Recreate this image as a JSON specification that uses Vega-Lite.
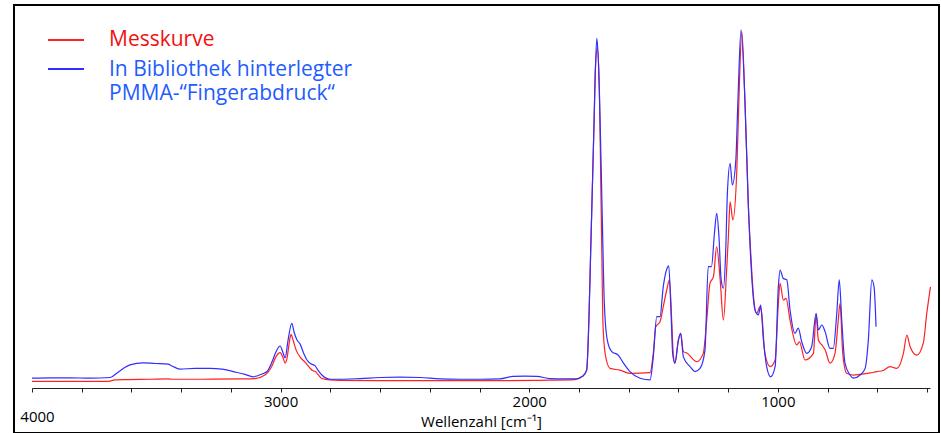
{
  "$schema": "https://vega.github.io/schema/vega-lite/v6.json",
  "autosize": "none",
  "width": 925,
  "height": 428,
  "padding": {"left": 14, "top": 5, "right": 2, "bottom": 0},
  "background": "white",
  "config": {"view": {"stroke": "black", "strokeWidth": 2}},
  "data": {"values": [
{"k":"M","wn":4000,"a":0.019},{"k":"M","wn":3887,"a":0.019},{"k":"M","wn":3767,"a":0.019},{"k":"M","wn":3694,"a":0.019},{"k":"M","wn":3666,"a":0.023},{"k":"M","wn":3626,"a":0.024},{"k":"M","wn":3525,"a":0.025},{"k":"M","wn":3453,"a":0.026},{"k":"M","wn":3437,"a":0.025},{"k":"M","wn":3324,"a":0.025},{"k":"M","wn":3163,"a":0.026},{"k":"M","wn":3103,"a":0.027},{"k":"M","wn":3063,"a":0.037},{"k":"M","wn":3035,"a":0.063},{"k":"M","wn":3019,"a":0.089},{"k":"M","wn":3002,"a":0.101},{"k":"M","wn":2990,"a":0.086},{"k":"M","wn":2982,"a":0.071},{"k":"M","wn":2974,"a":0.086},{"k":"M","wn":2966,"a":0.126},{"k":"M","wn":2958,"a":0.153},{"k":"M","wn":2950,"a":0.137},{"k":"M","wn":2938,"a":0.109},{"k":"M","wn":2922,"a":0.089},{"k":"M","wn":2902,"a":0.074},{"k":"M","wn":2882,"a":0.057},{"k":"M","wn":2870,"a":0.049},{"k":"M","wn":2860,"a":0.047},{"k":"M","wn":2850,"a":0.039},{"k":"M","wn":2834,"a":0.027},{"k":"M","wn":2801,"a":0.023},{"k":"M","wn":2761,"a":0.022},{"k":"M","wn":2600,"a":0.021},{"k":"M","wn":2439,"a":0.021},{"k":"M","wn":2278,"a":0.021},{"k":"M","wn":2118,"a":0.021},{"k":"M","wn":1957,"a":0.022},{"k":"M","wn":1816,"a":0.024},{"k":"M","wn":1784,"a":0.034},{"k":"M","wn":1769,"a":0.051},{"k":"M","wn":1760,"a":0.194},{"k":"M","wn":1753,"a":0.386},{"k":"M","wn":1746,"a":0.575},{"k":"M","wn":1739,"a":0.766},{"k":"M","wn":1734,"a":0.909},{"k":"M","wn":1726,"a":0.971},{"k":"M","wn":1718,"a":0.861},{"k":"M","wn":1712,"a":0.575},{"k":"M","wn":1708,"a":0.386},{"k":"M","wn":1704,"a":0.194},{"k":"M","wn":1695,"a":0.100},{"k":"M","wn":1675,"a":0.056},{"k":"M","wn":1635,"a":0.051},{"k":"M","wn":1595,"a":0.042},{"k":"M","wn":1514,"a":0.044},{"k":"M","wn":1501,"a":0.099},{"k":"M","wn":1491,"a":0.175},{"k":"M","wn":1474,"a":0.189},{"k":"M","wn":1461,"a":0.232},{"k":"M","wn":1447,"a":0.280},{"k":"M","wn":1436,"a":0.309},{"k":"M","wn":1427,"a":0.194},{"k":"M","wn":1420,"a":0.089},{"k":"M","wn":1414,"a":0.071},{"k":"M","wn":1400,"a":0.137},{"k":"M","wn":1391,"a":0.156},{"k":"M","wn":1380,"a":0.104},{"k":"M","wn":1366,"a":0.100},{"k":"M","wn":1326,"a":0.075},{"k":"M","wn":1300,"a":0.099},{"k":"M","wn":1286,"a":0.194},{"k":"M","wn":1273,"a":0.299},{"k":"M","wn":1259,"a":0.318},{"k":"M","wn":1246,"a":0.404},{"k":"M","wn":1232,"a":0.309},{"k":"M","wn":1219,"a":0.194},{"k":"M","wn":1206,"a":0.337},{"k":"M","wn":1199,"a":0.432},{"k":"M","wn":1192,"a":0.532},{"k":"M","wn":1181,"a":0.480},{"k":"M","wn":1165,"a":0.623},{"k":"M","wn":1155,"a":0.861},{"k":"M","wn":1145,"a":1.018},{"k":"M","wn":1132,"a":0.813},{"k":"M","wn":1119,"a":0.528},{"k":"M","wn":1109,"a":0.385},{"k":"M","wn":1099,"a":0.271},{"k":"M","wn":1085,"a":0.213},{"k":"M","wn":1072,"a":0.232},{"k":"M","wn":1065,"a":0.213},{"k":"M","wn":1052,"a":0.099},{"k":"M","wn":1031,"a":0.061},{"k":"M","wn":1011,"a":0.080},{"k":"M","wn":998,"a":0.242},{"k":"M","wn":991,"a":0.299},{"k":"M","wn":978,"a":0.251},{"k":"M","wn":967,"a":0.256},{"k":"M","wn":951,"a":0.194},{"k":"M","wn":924,"a":0.123},{"k":"M","wn":913,"a":0.132},{"k":"M","wn":891,"a":0.080},{"k":"M","wn":857,"a":0.099},{"k":"M","wn":846,"a":0.209},{"k":"M","wn":837,"a":0.137},{"k":"M","wn":823,"a":0.123},{"k":"M","wn":810,"a":0.109},{"k":"M","wn":790,"a":0.071},{"k":"M","wn":770,"a":0.099},{"k":"M","wn":757,"a":0.194},{"k":"M","wn":750,"a":0.242},{"k":"M","wn":739,"a":0.099},{"k":"M","wn":723,"a":0.042},{"k":"M","wn":696,"a":0.037},{"k":"M","wn":669,"a":0.039},{"k":"M","wn":629,"a":0.043},{"k":"M","wn":602,"a":0.047},{"k":"M","wn":577,"a":0.050},{"k":"M","wn":549,"a":0.061},{"k":"M","wn":522,"a":0.056},{"k":"M","wn":495,"a":0.099},{"k":"M","wn":481,"a":0.151},{"k":"M","wn":468,"a":0.118},{"k":"M","wn":441,"a":0.094},{"k":"M","wn":415,"a":0.128},{"k":"M","wn":401,"a":0.213},{"k":"M","wn":386,"a":0.289},
{"k":"B","wn":4000,"a":0.028},{"k":"B","wn":3928,"a":0.029},{"k":"B","wn":3847,"a":0.029},{"k":"B","wn":3767,"a":0.028},{"k":"B","wn":3686,"a":0.030},{"k":"B","wn":3658,"a":0.043},{"k":"B","wn":3630,"a":0.057},{"k":"B","wn":3606,"a":0.066},{"k":"B","wn":3553,"a":0.072},{"k":"B","wn":3505,"a":0.070},{"k":"B","wn":3453,"a":0.068},{"k":"B","wn":3437,"a":0.063},{"k":"B","wn":3405,"a":0.054},{"k":"B","wn":3344,"a":0.056},{"k":"B","wn":3284,"a":0.056},{"k":"B","wn":3236,"a":0.054},{"k":"B","wn":3191,"a":0.047},{"k":"B","wn":3143,"a":0.039},{"k":"B","wn":3111,"a":0.032},{"k":"B","wn":3075,"a":0.040},{"k":"B","wn":3055,"a":0.047},{"k":"B","wn":3035,"a":0.074},{"k":"B","wn":3019,"a":0.103},{"k":"B","wn":3002,"a":0.120},{"k":"B","wn":2990,"a":0.100},{"k":"B","wn":2982,"a":0.086},{"k":"B","wn":2970,"a":0.137},{"k":"B","wn":2955,"a":0.185},{"k":"B","wn":2946,"a":0.160},{"k":"B","wn":2934,"a":0.137},{"k":"B","wn":2922,"a":0.126},{"k":"B","wn":2906,"a":0.097},{"k":"B","wn":2894,"a":0.080},{"k":"B","wn":2878,"a":0.069},{"k":"B","wn":2862,"a":0.064},{"k":"B","wn":2850,"a":0.051},{"k":"B","wn":2834,"a":0.037},{"k":"B","wn":2801,"a":0.025},{"k":"B","wn":2761,"a":0.025},{"k":"B","wn":2681,"a":0.027},{"k":"B","wn":2600,"a":0.030},{"k":"B","wn":2520,"a":0.031},{"k":"B","wn":2439,"a":0.030},{"k":"B","wn":2359,"a":0.026},{"k":"B","wn":2278,"a":0.025},{"k":"B","wn":2198,"a":0.025},{"k":"B","wn":2118,"a":0.026},{"k":"B","wn":2065,"a":0.033},{"k":"B","wn":2017,"a":0.034},{"k":"B","wn":1969,"a":0.033},{"k":"B","wn":1916,"a":0.027},{"k":"B","wn":1856,"a":0.026},{"k":"B","wn":1816,"a":0.026},{"k":"B","wn":1784,"a":0.034},{"k":"B","wn":1769,"a":0.051},{"k":"B","wn":1760,"a":0.194},{"k":"B","wn":1753,"a":0.386},{"k":"B","wn":1746,"a":0.575},{"k":"B","wn":1739,"a":0.766},{"k":"B","wn":1734,"a":0.909},{"k":"B","wn":1728,"a":0.999},{"k":"B","wn":1723,"a":0.951},{"k":"B","wn":1715,"a":0.766},{"k":"B","wn":1706,"a":0.480},{"k":"B","wn":1698,"a":0.243},{"k":"B","wn":1686,"a":0.137},{"k":"B","wn":1668,"a":0.104},{"k":"B","wn":1642,"a":0.094},{"k":"B","wn":1621,"a":0.071},{"k":"B","wn":1595,"a":0.047},{"k":"B","wn":1554,"a":0.028},{"k":"B","wn":1514,"a":0.023},{"k":"B","wn":1501,"a":0.089},{"k":"B","wn":1487,"a":0.204},{"k":"B","wn":1474,"a":0.204},{"k":"B","wn":1461,"a":0.289},{"k":"B","wn":1450,"a":0.332},{"k":"B","wn":1439,"a":0.349},{"k":"B","wn":1430,"a":0.223},{"k":"B","wn":1423,"a":0.099},{"k":"B","wn":1414,"a":0.071},{"k":"B","wn":1400,"a":0.137},{"k":"B","wn":1391,"a":0.156},{"k":"B","wn":1380,"a":0.089},{"k":"B","wn":1353,"a":0.061},{"k":"B","wn":1333,"a":0.047},{"k":"B","wn":1313,"a":0.056},{"k":"B","wn":1293,"a":0.109},{"k":"B","wn":1280,"a":0.347},{"k":"B","wn":1267,"a":0.347},{"k":"B","wn":1255,"a":0.442},{"k":"B","wn":1246,"a":0.499},{"k":"B","wn":1237,"a":0.434},{"k":"B","wn":1228,"a":0.309},{"k":"B","wn":1219,"a":0.285},{"k":"B","wn":1210,"a":0.385},{"k":"B","wn":1203,"a":0.556},{"k":"B","wn":1192,"a":0.642},{"k":"B","wn":1183,"a":0.580},{"k":"B","wn":1169,"a":0.651},{"k":"B","wn":1161,"a":0.813},{"k":"B","wn":1148,"a":1.023},{"k":"B","wn":1132,"a":0.813},{"k":"B","wn":1119,"a":0.528},{"k":"B","wn":1105,"a":0.318},{"k":"B","wn":1092,"a":0.223},{"k":"B","wn":1078,"a":0.209},{"k":"B","wn":1069,"a":0.237},{"k":"B","wn":1058,"a":0.137},{"k":"B","wn":1045,"a":0.061},{"k":"B","wn":1029,"a":0.032},{"k":"B","wn":1011,"a":0.061},{"k":"B","wn":998,"a":0.289},{"k":"B","wn":991,"a":0.337},{"k":"B","wn":978,"a":0.313},{"k":"B","wn":964,"a":0.309},{"k":"B","wn":951,"a":0.223},{"k":"B","wn":931,"a":0.156},{"k":"B","wn":918,"a":0.171},{"k":"B","wn":904,"a":0.132},{"k":"B","wn":884,"a":0.099},{"k":"B","wn":864,"a":0.118},{"k":"B","wn":846,"a":0.213},{"k":"B","wn":837,"a":0.166},{"k":"B","wn":823,"a":0.180},{"k":"B","wn":810,"a":0.161},{"k":"B","wn":790,"a":0.113},{"k":"B","wn":777,"a":0.113},{"k":"B","wn":763,"a":0.213},{"k":"B","wn":753,"a":0.309},{"k":"B","wn":743,"a":0.194},{"k":"B","wn":730,"a":0.071},{"k":"B","wn":710,"a":0.037},{"k":"B","wn":696,"a":0.028},{"k":"B","wn":669,"a":0.037},{"k":"B","wn":649,"a":0.056},{"k":"B","wn":636,"a":0.137},{"k":"B","wn":622,"a":0.309},{"k":"B","wn":613,"a":0.289},{"k":"B","wn":605,"a":0.175}
  ]},
  "mark": {"type": "line", "strokeWidth": 1.2, "interpolate": "monotone"},
  "encoding": {
    "x": {
      "field": "wn", "type": "quantitative",
      "scale": {"domain": [4000, 388], "range": [18, 916], "nice": false, "zero": false},
      "axis": {
        "orient": "bottom", "offset": -45,
        "values": [4000, 3800, 3600, 3400, 3200, 3000, 2800, 2600, 2400, 2200, 2000, 1800, 1600, 1400, 1200, 1000, 800, 600, 400],
        "format": "d",
        "labelExpr": "datum.value % 1000 === 0 ? datum.label : ''",
        "labelFlush": false, "labelOverlap": false, "labelBound": false,
        "grid": false,
        "domainColor": "#222222", "domainWidth": 1,
        "tickColor": "#222222", "tickSize": 4, "tickWidth": 1,
        "labelFont": "Open Sans", "labelFontSize": 15, "labelColor": "black",
        "labelPadding": {"condition": {"test": "datum.value === 4000", "value": 17}, "value": 2},
        "labelOffset": {"condition": {"test": "datum.value === 4000", "value": 5}, "value": 0},
        "title": "Wellenzahl [cm⁻¹]",
        "titleFont": "Open Sans", "titleFontSize": 15, "titleFontWeight": "normal", "titleColor": "black",
        "titleY": 26, "titleBaseline": "top"
      }
    },
    "y": {
      "field": "a", "type": "quantitative",
      "scale": {"domain": [-0.1286, 1.0943], "nice": false, "zero": false},
      "axis": null
    },
    "color": {
      "field": "k", "type": "nominal",
      "scale": {"domain": ["M", "B"], "range": ["#ff2020", "#2f2fff"]},
      "legend": {
        "orient": "none", "legendX": 33, "legendY": 16, "title": null, "padding": 0,
        "symbolType": "stroke", "symbolSize": 1296, "symbolStrokeWidth": 2,
        "labelFont": "Open Sans", "labelFontSize": 21, "labelOffset": 24,
        "labelBaseline": "top", "labelLimit": 0,
        "labelExpr": "datum.value === 'M' ? 'Messkurve' : ['In Bibliothek hinterlegter', 'PMMA-“Fingerabdruck“']",
        "rowPadding": -4,
        "encode": {
          "labels": {"update": {
            "fill": {"signal": "datum.value === 'M' ? '#f01010' : '#1f5cff'"},
            "dy": {"signal": "datum.value === 'M' ? -11 : -10"},
            "lineHeight": {"value": 24}
          }}
        }
      }
    }
  }
}
